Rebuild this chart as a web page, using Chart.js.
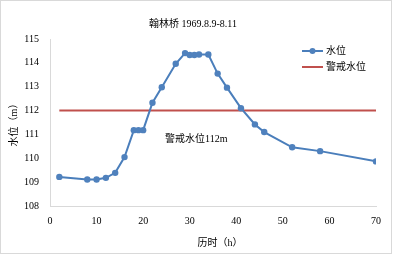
<!DOCTYPE html>
<html>
<head>
<meta charset="utf-8">
<script src="https://cdn.jsdelivr.net/npm/chart.js@4.4.1/dist/chart.umd.min.js"></script>
<style>
  html, body { margin: 0; padding: 0; background: #fff; }
  #wrap { position: absolute; left: 0; top: 0; width: 393px; height: 257px; }
  #frame { position: absolute; left: 0; top: 0; width: 390px; height: 252px; border: 1px solid #d9d9d9; pointer-events: none; }
  canvas { position: absolute; left: 0; top: 0; }
</style>
</head>
<body>
<div id="wrap">
  <canvas id="c" width="393" height="257"></canvas>
  <div id="frame"></div>
</div>
<script>
// ---- data ----
const titleText = '翰林桥 1969.8.9-8.11';
const xTitle = '历时（h）';
const yTitle = '水位（m）';
const seriesName = '水位';
const warnName = '警戒水位';
const warnLabel = '警戒水位112m';
const hours = [2, 8, 10, 12, 14, 16, 18, 19, 20, 22, 24, 27, 29, 30, 31, 32, 34, 36, 38, 41, 44, 46, 52, 58, 70];
const levels = [109.22, 109.11, 109.11, 109.18, 109.39, 110.05, 111.18, 111.18, 111.18, 112.33, 112.98, 113.96, 114.41, 114.33, 114.33, 114.35, 114.35, 113.55, 112.96, 112.10, 111.42, 111.10, 110.46, 110.30, 109.87];
const warnHours = [2, 70];
const warnLevels = [112, 112];
const xTicks = [0, 10, 20, 30, 40, 50, 60, 70];
const yTicks = [108, 109, 110, 111, 112, 113, 114, 115];

const BLUE = '#4a7ebb';
const BLUE_PT = '#4f81bd';
const RED = '#c0504d';
const FONT = "'Liberation Serif', 'Times New Roman', 'Noto Sans CJK SC', serif";

const extras = {
  id: 'extras',
  afterDraw(chart) {
    const ctx = chart.ctx;
    const xs = chart.scales.x, ys = chart.scales.y;
    ctx.save();
    ctx.fillStyle = '#000';
    ctx.font = '10px ' + FONT;
    ctx.textBaseline = 'middle';
    // title
    ctx.textAlign = 'center';
    ctx.fillText(titleText, 193, 24);
    // x title
    ctx.fillText(xTitle, 220, 243);
    // y title
    ctx.save();
    ctx.translate(14.5, 122.5);
    ctx.rotate(-Math.PI / 2);
    ctx.fillText(yTitle, 0, 0);
    ctx.restore();
    // annotation
    ctx.textAlign = 'left';
    ctx.fillText(warnLabel, 165, 139);
    // legend
    ctx.lineWidth = 2;
    ctx.strokeStyle = BLUE;
    ctx.beginPath(); ctx.moveTo(302, 51); ctx.lineTo(323, 51); ctx.stroke();
    ctx.fillStyle = BLUE_PT;
    ctx.beginPath(); ctx.arc(312.5, 51, 3, 0, Math.PI * 2); ctx.fill();
    ctx.strokeStyle = RED;
    ctx.beginPath(); ctx.moveTo(302, 67); ctx.lineTo(323, 67); ctx.stroke();
    ctx.fillStyle = '#000';
    ctx.fillText(seriesName, 326, 51);
    ctx.fillText(warnName, 326, 67);
    ctx.restore();
  }
};

new Chart(document.getElementById('c'), {
  type: 'scatter',
  data: {
    datasets: [
      {
        label: warnName,
        data: warnHours.map((h, i) => ({ x: h, y: warnLevels[i] })),
        showLine: true,
        borderColor: RED,
        borderWidth: 2,
        pointRadius: 0,
        order: 2
      },
      {
        label: seriesName,
        data: hours.map((h, i) => ({ x: h, y: levels[i] })),
        showLine: true,
        borderColor: BLUE,
        borderWidth: 2,
        pointRadius: 3.2,
        pointBackgroundColor: BLUE_PT,
        pointBorderColor: BLUE_PT,
        pointBorderWidth: 0,
        order: 1
      }
    ]
  },
  options: {
    responsive: false,
    animation: false,
    devicePixelRatio: 1,
    layout: { padding: { left: 0, right: 17, top: 39, bottom: 0 } },
    plugins: { legend: { display: false }, title: { display: false }, tooltip: { enabled: false } },
    scales: {
      x: {
        type: 'linear',
        min: 0, max: 70,
        afterFit(s) { s.height = 51; },
        afterBuildTicks(s) { s.ticks = xTicks.map(v => ({ value: v })); },
        grid: { display: false, drawTicks: false },
        border: { display: true, color: '#d9d9d9', width: 1 },
        ticks: { padding: 9, color: '#000', font: { family: FONT, size: 10 } }
      },
      y: {
        type: 'linear',
        min: 108, max: 115,
        afterFit(s) { s.width = 50; },
        afterBuildTicks(s) { s.ticks = yTicks.map(v => ({ value: v })); },
        grid: { display: false, drawTicks: false },
        border: { display: true, color: '#d9d9d9', width: 1 },
        ticks: { padding: 11, color: '#000', font: { family: FONT, size: 10 } }
      }
    }
  },
  plugins: [extras]
});
</script>
</body>
</html>
